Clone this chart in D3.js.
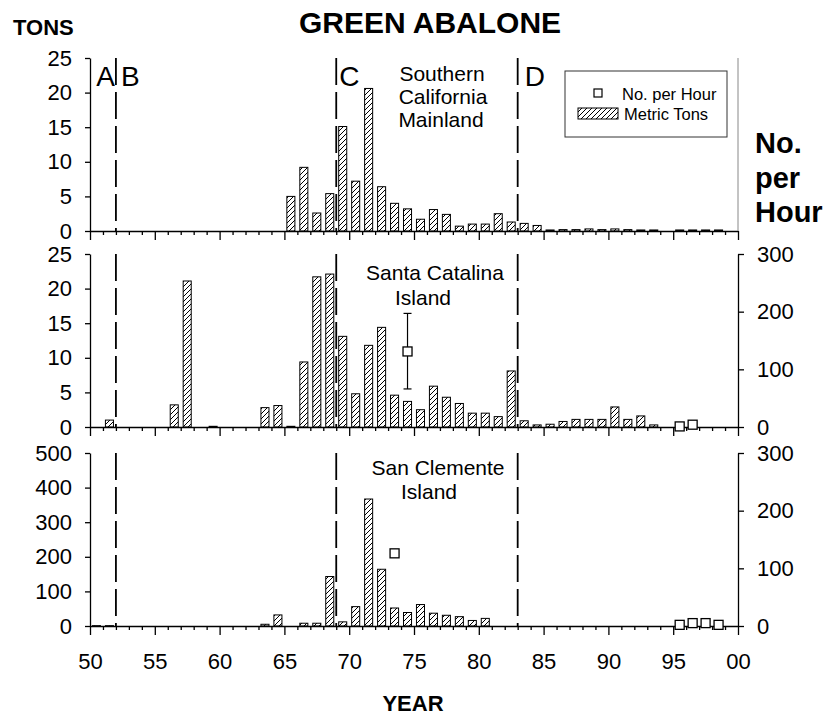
<!DOCTYPE html>
<html>
<head>
<meta charset="utf-8">
<script src="https://cdn.jsdelivr.net/npm/d3@7"></script>
<style>
  html, body { margin: 0; padding: 0; background: #fff; }
  svg { display: block; font-family: "Liberation Sans", Arial, sans-serif; }
</style>
</head>
<body>
<svg id="chart" width="827" height="715"></svg>
<script>
// Commercial landings (metric tons) by year, three regions
const mainlandYears = [1965,1966,1967,1968,1969,1970,1971,1972,1973,1974,1975,1976,1977,1978,1979,1980,1981,1982,1983,1984,1985,1986,1987,1988,1989,1990,1991,1992,1993,1995,1996,1997,1998];
const mainlandTons  = [5.0,9.2,2.6,5.4,15.1,7.2,20.6,6.4,4.0,3.2,1.7,3.1,2.4,0.7,1.0,1.0,2.5,1.3,1.1,0.8,0.15,0.2,0.2,0.3,0.2,0.3,0.2,0.15,0.15,0.15,0.15,0.15,0.15];

const catalinaYears = [1951,1956,1957,1959,1963,1964,1965,1966,1967,1968,1969,1970,1971,1972,1973,1974,1975,1976,1977,1978,1979,1980,1981,1982,1983,1984,1985,1986,1987,1988,1989,1990,1991,1992,1993];
const catalinaTons  = [1.0,3.2,21.1,0.1,2.8,3.1,0.1,9.4,21.7,22.1,13.1,4.8,11.8,14.4,4.6,3.7,2.5,5.9,4.3,3.4,2.0,2.0,1.5,8.1,0.9,0.3,0.4,0.8,1.1,1.1,1.1,2.9,1.1,1.6,0.3];

const clementeYears = [1950,1951,1963,1964,1966,1967,1968,1969,1970,1971,1972,1973,1974,1975,1976,1977,1978,1979,1980];
const clementeTons  = [1,1,5,32,8,8,143,12,56,367,164,52,39,62,37,31,27,16,22];

// Survey catch rate (number per hour)
const catalinaRateYears = [1974,1995,1996];
const catalinaRate      = [131,1,4];
const catalinaErrYears  = [1974];
const catalinaErrLow    = [66];
const catalinaErrHigh   = [197];

const clementeRateYears = [1973,1995,1996,1997,1998];
const clementeRate      = [126,2,5,5,2];

// Management period boundaries and their labels
const periodLines  = [1952,1969,1983];
const periodLabels = ["A","B","C","D"];

const smallTonTicks = [0,5,10,15,20,25];
const largeTonTicks = [0,100,200,300,400,500];
const rateTicks     = [0,100,200,300];
const majorYears    = [1950,1955,1960,1965,1970,1975,1980,1985,1990,1995,2000];

const svg = d3.select("#chart");
const FONT = "\"Liberation Sans\", Arial, sans-serif";

// diagonal hatch for the tonnage bars
const defs = svg.append("defs");
const pat = defs.append("pattern")
  .attr("id","hatch").attr("patternUnits","userSpaceOnUse")
  .attr("width",5).attr("height",5);
pat.append("rect").attr("width",5).attr("height",5).attr("fill","#fff");
pat.append("path")
  .attr("d","M-1,1 l2,-2 M0,5 l5,-5 M4,6 l2,-2")
  .attr("stroke","#000").attr("stroke-width",1);

const x = d3.scaleLinear().domain([1950,2000]).range([90,738]);

const panels = [
  { top:58,  bottom:231, tonMax:25,  tonTicks:smallTonTicks, years:mainlandYears, tons:mainlandTons,
    rateYears:[], rate:[], right:false,
    name:["Southern","California","Mainland"], nameX:[442,443,441], nameY:[81,104,127] },
  { top:254, bottom:427, tonMax:25,  tonTicks:smallTonTicks, years:catalinaYears, tons:catalinaTons,
    rateYears:catalinaRateYears, rate:catalinaRate, right:true,
    errYears:catalinaErrYears, errLow:catalinaErrLow, errHigh:catalinaErrHigh,
    name:["Santa Catalina","Island"], nameX:[435,423], nameY:[280,305] },
  { top:453, bottom:626, tonMax:500, tonTicks:largeTonTicks, years:clementeYears, tons:clementeTons,
    rateYears:clementeRateYears, rate:clementeRate, right:true,
    name:["San Clemente","Island"], nameX:[438,429], nameY:[475,499] }
];

panels.forEach((p, i) => {
  const g = svg.append("g");
  const yT = d3.scaleLinear().domain([0,p.tonMax]).range([p.bottom,p.top]);
  const yR = d3.scaleLinear().domain([0,300]).range([p.bottom,p.top]);

  // bars
  g.selectAll("rect.bar").data(p.years.map((yr,k)=>({yr, v:p.tons[k]})))
    .join("rect").attr("class","bar")
    .attr("x", d => x(d.yr+0.19))
    .attr("width", d => x(d.yr+0.81)-x(d.yr+0.19))
    .attr("y", d => yT(d.v))
    .attr("height", d => yT(0)-yT(d.v))
    .attr("fill","url(#hatch)").attr("stroke","#000").attr("stroke-width",1);

  // period boundaries
  g.selectAll("line.period").data(periodLines).join("line")
    .attr("x1", d=>x(d)).attr("x2", d=>x(d))
    .attr("y1", p.top).attr("y2", p.bottom)
    .attr("stroke","#000").attr("stroke-width",1.8)
    .attr("stroke-dasharray","27,7");

  // x axis: a tick every year, longer every five
  const xa = g.append("g").attr("transform",`translate(0,${p.bottom})`)
    .call(d3.axisBottom(x).tickValues(d3.range(1950,2001)).tickSize(4).tickSizeOuter(0).tickFormat(""));
  xa.selectAll(".tick line").filter(d => d % 5 === 0).attr("y2",9);
  xa.selectAll("path, line").attr("stroke","#000").attr("stroke-width",1.3);

  if (i === panels.length-1) {
    g.append("g").attr("transform",`translate(0,${p.bottom})`)
      .call(d3.axisBottom(x).tickValues(majorYears).tickSize(0).tickPadding(27)
        .tickFormat(d => String(d % 100).padStart(2,"0")))
      .call(a => a.select(".domain").remove())
      .selectAll("text").attr("font-size",22).attr("font-family",FONT).attr("fill","#000");
  }

  // left axis (tons)
  const la = g.append("g").attr("transform",`translate(${x(1950)},0)`)
    .call(d3.axisLeft(yT).tickValues(p.tonTicks).tickSize(5).tickPadding(13).tickSizeOuter(0));
  la.selectAll("path, line").attr("stroke","#000").attr("stroke-width",1.3);
  la.selectAll("text").attr("font-size",22).attr("font-family",FONT).attr("fill","#000");

  // right axis (number per hour)
  if (p.right) {
    const ra = g.append("g").attr("transform",`translate(${x(2000)},0)`)
      .call(d3.axisRight(yR).tickValues(rateTicks).tickSize(6).tickPadding(13).tickSizeOuter(0));
    ra.selectAll("path, line").attr("stroke","#000").attr("stroke-width",1.3);
    ra.selectAll("text").attr("font-size",22).attr("font-family",FONT).attr("fill","#000");
  } else {
    g.append("line").attr("x1",x(2000)).attr("x2",x(2000))
      .attr("y1",p.top).attr("y2",p.bottom)
      .attr("stroke","#888").attr("stroke-width",1);
  }

  // error bars
  if (p.errYears) {
    p.errYears.forEach((yr,k) => {
      const cx = x(yr+0.5);
      g.append("line").attr("x1",cx).attr("x2",cx)
        .attr("y1",yR(p.errLow[k])).attr("y2",yR(p.errHigh[k]))
        .attr("stroke","#000").attr("stroke-width",1.2);
      [p.errLow[k], p.errHigh[k]].forEach(v => {
        g.append("line").attr("x1",cx-4).attr("x2",cx+4)
          .attr("y1",yR(v)).attr("y2",yR(v))
          .attr("stroke","#000").attr("stroke-width",1.2);
      });
    });
  }

  // catch-rate markers
  const s = 9;
  g.selectAll("rect.pt").data(p.rateYears.map((yr,k)=>({yr, v:p.rate[k]})))
    .join("rect").attr("class","pt")
    .attr("x", d => x(d.yr+0.5)-s/2).attr("y", d => yR(d.v)-s/2)
    .attr("width",s).attr("height",s)
    .attr("fill","#fff").attr("stroke","#000").attr("stroke-width",1.3);

  // region name
  p.name.forEach((t,k) => {
    g.append("text").attr("x",p.nameX[k]).attr("y",p.nameY[k])
      .attr("text-anchor","middle").attr("font-size",21).attr("font-family",FONT)
      .attr("fill","#000").text(t);
  });
});

// period letters in the top panel
const letterY = 86;
const letterPos = [
  {x: x(periodLines[0])-1, anchor:"end"},
  {x: x(periodLines[0])+5, anchor:"start"},
  {x: x(periodLines[1])+3, anchor:"start"},
  {x: x(periodLines[2])+7, anchor:"start"}
];
periodLabels.forEach((t,k) => {
  svg.append("text").attr("x",letterPos[k].x).attr("y",letterY)
    .attr("text-anchor",letterPos[k].anchor)
    .attr("font-size",28).attr("font-family",FONT).attr("fill","#000").text(t);
});

// legend
const lg = svg.append("g");
lg.append("rect").attr("x",565).attr("y",71).attr("width",162).attr("height",66)
  .attr("fill","#fff").attr("stroke","#333").attr("stroke-width",1);
lg.append("rect").attr("x",594).attr("y",89).attr("width",8).attr("height",8)
  .attr("fill","#fff").attr("stroke","#000").attr("stroke-width",1.2);
lg.append("text").attr("x",622).attr("y",100).attr("font-size",16.5)
  .attr("font-family",FONT).attr("fill","#000").text("No. per Hour");
lg.append("rect").attr("x",578).attr("y",108).attr("width",40).attr("height",11)
  .attr("fill","url(#hatch)").attr("stroke","#000").attr("stroke-width",1);
lg.append("text").attr("x",624).attr("y",120).attr("font-size",16.5)
  .attr("font-family",FONT).attr("fill","#000").text("Metric Tons");

// titles
svg.append("text").attr("x",430).attr("y",33).attr("text-anchor","middle")
  .attr("font-size",30).attr("font-weight","bold").attr("font-family",FONT)
  .text("GREEN ABALONE");
svg.append("text").attr("x",13).attr("y",35)
  .attr("font-size",22).attr("font-weight","bold").attr("font-family",FONT)
  .text("TONS");
[["No.",153],["per",188],["Hour",222]].forEach(([t,y]) => {
  svg.append("text").attr("x",755).attr("y",y)
    .attr("font-size",29).attr("font-weight","bold").attr("font-family",FONT).text(t);
});
svg.append("text").attr("x",413).attr("y",711).attr("text-anchor","middle")
  .attr("font-size",22).attr("font-weight","bold").attr("font-family",FONT)
  .text("YEAR");
</script>
</body>
</html>
